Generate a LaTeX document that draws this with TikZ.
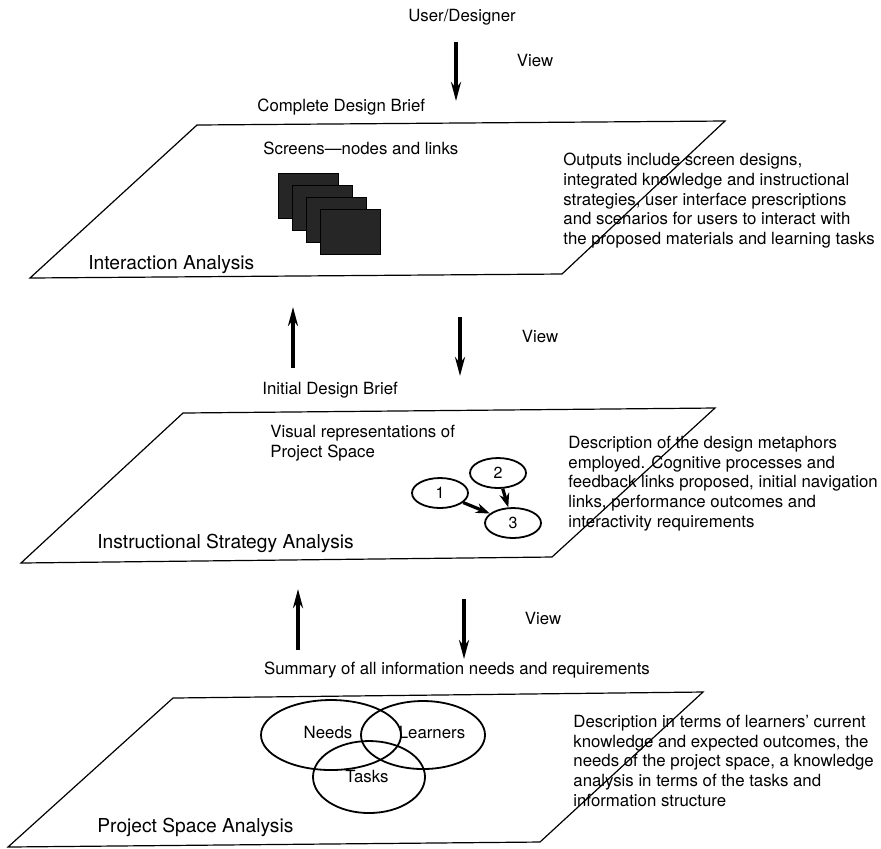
\documentclass[tikz,border=0pt]{standalone}
\usepackage{fontspec}
\setmainfont{TeX Gyre Heros}
\usetikzlibrary{arrows.meta,shapes.geometric}

\begin{document}
\begin{tikzpicture}[x=0.5pt,y=-0.5pt,
    lbl/.style={font=\fontsize{8.4}{9.8}\selectfont,inner sep=0pt},
    desc/.style={lbl,align=left,anchor=north west},
    plane/.style={font=\fontsize{9.6}{11}\selectfont,inner sep=0pt,anchor=west},
    flow/.style={-{Stealth[length=9.5pt,width=5pt]},line width=1.6pt},
    link/.style={-{Stealth[length=7pt,width=5pt]},line width=1.6pt},
    bubble/.style={ellipse,draw,line width=0.9pt,minimum width=28pt,minimum height=15pt,inner sep=0pt,font=\fontsize{8}{9}\selectfont},
    venn/.style={ellipse,draw,line width=0.9pt,inner sep=0pt}]
	  \useasboundingbox (0,0) rectangle (881,848);
	  \draw[line width=0.6pt] (30,278) -- (562,274) -- (725,121) -- (197,125) -- cycle;
	  \draw[line width=0.6pt] (21,563) -- (552,557) -- (715,408) -- (183,413) -- cycle;
	  \draw[line width=0.6pt] (8,847) -- (540,842) -- (703,692) -- (173,698) -- cycle;
	  \node[lbl] (user) at (462,17) {User/Designer};
	  \node[lbl] (view1) at (535,60) {View};
	  \node[lbl,anchor=west] (brief1) at (257,107) {Complete Design Brief};
	  \node[lbl,anchor=west] (screens) at (263,148) {Screens---nodes and links};
	  \foreach \i in {0,...,3}
	    \filldraw[fill=black!85,draw=black] (278+14*\i,173+12*\i) rectangle +(60,45);
	  \node[desc] (out1) at (563,153) {Outputs include screen designs,\\integrated knowledge and instructional\\strategies, user interface prescriptions\\and scenarios for users to interact with\\the proposed materials and learning tasks};
	  \node[plane] (ia) at (88,265) {Interaction Analysis};
	  \node[lbl,anchor=west] (brief2) at (262,390) {Initial Design Brief};
	  \node[lbl] (view2) at (540,336) {View};
	  \node[desc] (visual) at (270,425) {Visual representations of\\Project Space};
	  \node[bubble] (e1) at (440,493) {1};
	  \node[bubble] (e2) at (498,473) {2};
	  \node[bubble] (e3) at (513,523) {3};
	  \draw[link] (e1) -- (e3);
	  \draw[link] (e2) -- (e3);
	  \node[desc] (out2) at (568,436) {Description of the design metaphors\\employed. Cognitive processes and\\feedback links proposed, initial navigation\\links, performance outcomes and\\interactivity requirements};
	  \node[plane] (isa) at (97,543) {Instructional Strategy Analysis};
	  \node[lbl] (view3) at (543,618) {View};
	  \node[lbl] (summary) at (457,670) {Summary of all information needs and requirements};
	  \node[venn,minimum width=70pt,minimum height=35pt] (needs) at (331,735) {};
	  \node[venn,minimum width=62pt,minimum height=34pt] (learners) at (423,735) {};
	  \node[venn,minimum width=56pt,minimum height=36pt] (tasks) at (369,777) {};
	  \node[lbl] (needstxt) at (328,732) {Needs};
	  \node[lbl] (learnerstxt) at (432,732) {Learners};
	  \node[lbl] (taskstxt) at (367,776) {Tasks};
	  \node[desc] (out3) at (573,715) {Description in terms of learners' current\\knowledge and expected outcomes, the\\needs of the project space, a knowledge\\analysis in terms of the tasks and\\information structure};
	  \node[plane] (psa) at (97,827) {Project Space Analysis};
	  \coordinate (a1) at (456,42);
	  \coordinate (a2) at (456,101);
	  \coordinate (b1) at (293,368);
	  \coordinate (b2) at (293,307);
	  \coordinate (c1) at (460,317);
	  \coordinate (c2) at (460,376);
	  \coordinate (d1) at (298,650);
	  \coordinate (d2) at (298,589);
	  \coordinate (f1) at (464,599);
	  \coordinate (f2) at (464,659);
	  \draw[flow] (a1) -- (a2);
	  \draw[flow] (b1) -- (b2);
	  \draw[flow] (c1) -- (c2);
	  \draw[flow] (d1) -- (d2);
	  \draw[flow] (f1) -- (f2);
	\end{tikzpicture}
\end{document}
